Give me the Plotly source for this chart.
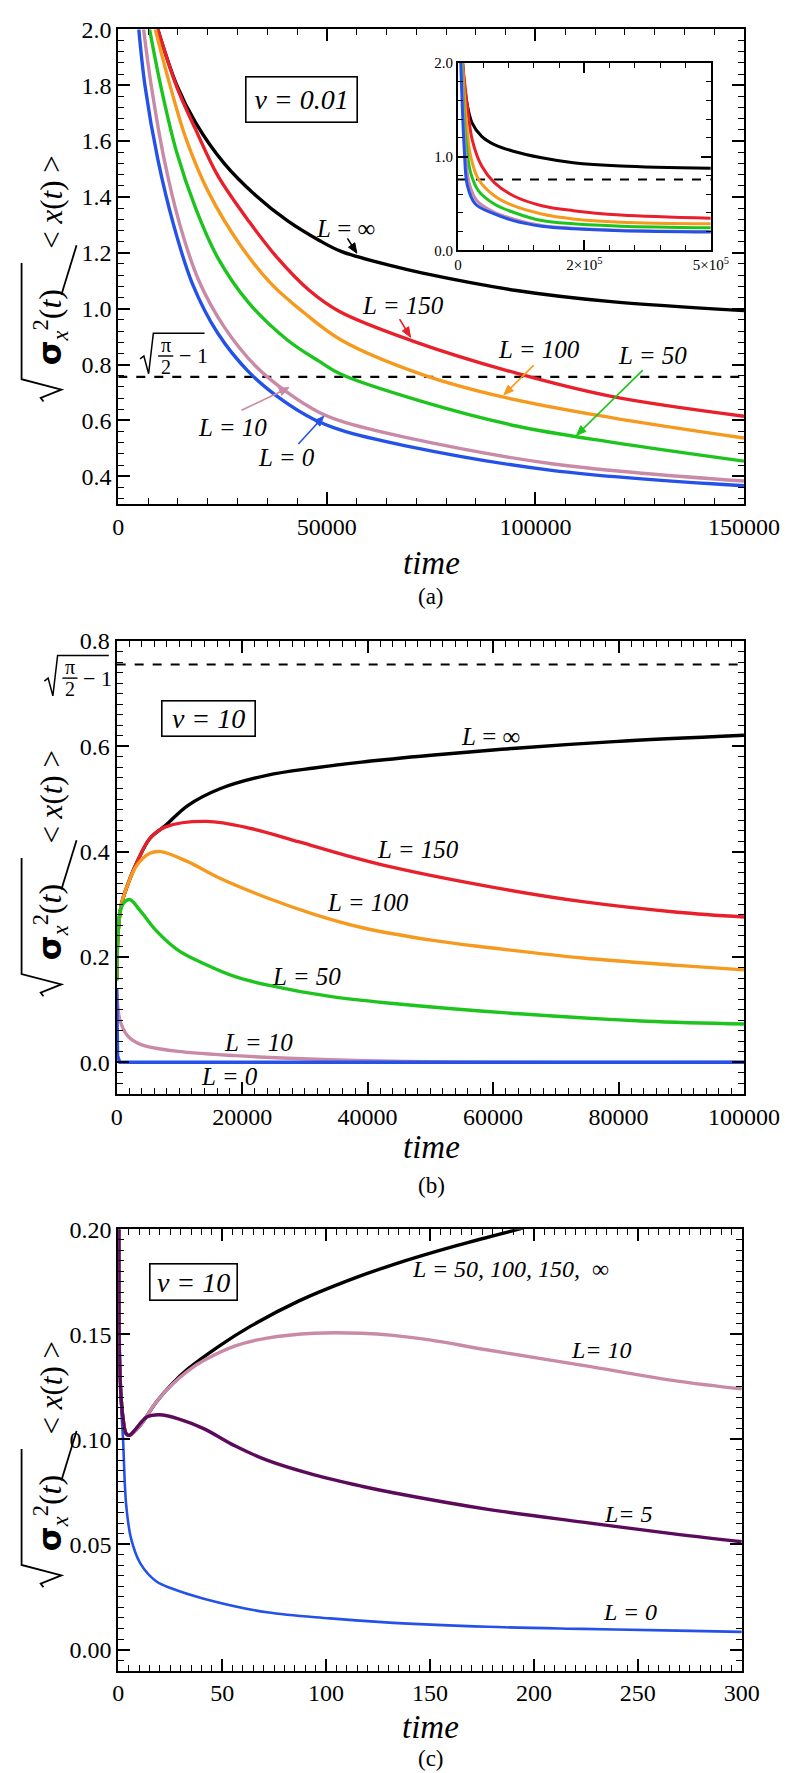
import math
import plotly.graph_objects as go

W, H = 808, 1773

# ---------------- data : panel (a), nu = 0.01 ----------------
A_T_INF = [9470, 14020, 18560, 25380, 32960, 40530, 48100, 53410, 65900, 72730, 95450, 118180, 150000]
A_V_INF = [2.0, 1.80, 1.665, 1.52, 1.405, 1.315, 1.245, 1.205, 1.152, 1.128, 1.065, 1.025, 0.993]
A_T_150 = [9470, 14020, 18560, 23860, 31440, 38260, 45830, 53030, 70450, 95450, 118180, 150000]
A_V_150 = [2.0, 1.794, 1.641, 1.476, 1.31, 1.18, 1.065, 0.99, 0.885, 0.769, 0.686, 0.615]
A_T_100 = [8860, 12500, 16290, 21590, 29170, 36740, 44320, 53410, 72730, 92420, 118180, 150000]
A_V_100 = [2.0, 1.794, 1.606, 1.418, 1.229, 1.088, 0.988, 0.888, 0.765, 0.683, 0.610, 0.537]
A_T_50 = [7500, 10230, 14020, 18560, 23860, 31440, 40530, 48100, 53410, 72730, 95450, 118180, 150000]
A_V_50 = [2.0, 1.794, 1.559, 1.359, 1.182, 1.018, 0.888, 0.812, 0.765, 0.668, 0.580, 0.522, 0.454]
A_T_10 = [6060, 7950, 10990, 14770, 19320, 25380, 32960, 40530, 48100, 53410, 68600, 103900, 150000]
A_V_10 = [2.0, 1.794, 1.535, 1.30, 1.10, 0.935, 0.794, 0.70, 0.629, 0.597, 0.54, 0.445, 0.383]
A_T_0 = [4920, 6440, 9470, 13260, 17800, 23860, 31440, 39020, 46590, 53410, 68600, 103900, 150000]
A_V_0 = [2.0, 1.794, 1.535, 1.30, 1.088, 0.912, 0.771, 0.676, 0.606, 0.565, 0.51, 0.421, 0.366]

# inset of panel (a)
I_T_INF = [9375, 15600, 28100, 46900, 71900, 109400, 165600, 228100, 321900, 500000]
I_V_INF = [2.0, 1.64, 1.358, 1.217, 1.129, 1.058, 0.988, 0.935, 0.899, 0.875]
I_T_150 = [9000, 18750, 28100, 46900, 71900, 109400, 165600, 228100, 321900, 500000]
I_V_150 = [2.0, 1.534, 1.182, 0.899, 0.723, 0.582, 0.476, 0.423, 0.377, 0.342]
I_T_100 = [9000, 16900, 25000, 40600, 71900, 109400, 165600, 228100, 321900, 500000]
I_V_100 = [2.0, 1.358, 1.005, 0.758, 0.582, 0.476, 0.388, 0.335, 0.300, 0.282]
I_T_50 = [8000, 15600, 25000, 40600, 71900, 109400, 165600, 228100, 321900, 500000]
I_V_50 = [2.0, 1.182, 0.829, 0.635, 0.494, 0.406, 0.317, 0.282, 0.257, 0.240]
I_T_10 = [7000, 14400, 21900, 37500, 71900, 109400, 165600, 228100, 321900, 500000]
I_V_10 = [2.0, 1.076, 0.723, 0.529, 0.406, 0.335, 0.265, 0.236, 0.215, 0.201]
I_T_0 = [5600, 12500, 18750, 34400, 71900, 109400, 165600, 228100, 321900, 500000]
I_V_0 = [2.0, 1.076, 0.688, 0.494, 0.388, 0.317, 0.257, 0.229, 0.208, 0.194]

# ---------------- data : panel (b), nu = 10 ----------------
B_T_INF = [0, 250, 756, 1760, 3270, 5290, 7810, 11330, 16370, 23930, 31490, 39040, 50130, 64200, 79300, 100000]
B_V_INF = [0.156, 0.25, 0.30, 0.3375, 0.381, 0.425, 0.45, 0.4875, 0.519, 0.545, 0.559, 0.57, 0.583, 0.597, 0.609, 0.621]
B_T_150 = [0, 250, 756, 1760, 3270, 5290, 7810, 14360, 21410, 28970, 36520, 44080, 59200, 74300, 89400, 100000]
B_V_150 = [0.156, 0.25, 0.30, 0.3375, 0.381, 0.425, 0.447, 0.4575, 0.444, 0.419, 0.393, 0.37, 0.334, 0.305, 0.285, 0.276]
B_T_100 = [0, 250, 756, 1760, 3270, 5290, 7050, 11330, 16370, 23930, 31490, 39040, 50130, 59200, 74300, 89400, 100000]
B_V_100 = [0.156, 0.25, 0.30, 0.3375, 0.375, 0.397, 0.40, 0.381, 0.35, 0.3125, 0.281, 0.256, 0.232, 0.218, 0.198, 0.184, 0.1755]
B_T_50 = [0, 250, 756, 2015, 3780, 6300, 9820, 13850, 18890, 23930, 34010, 44080, 64200, 84400, 100000]
B_V_50 = [0.156, 0.25, 0.295, 0.309, 0.2875, 0.25, 0.2125, 0.1875, 0.1625, 0.147, 0.125, 0.1117, 0.092, 0.078, 0.0728]
B_T_10 = [0, 500, 1760, 3780, 8820, 18890, 34010, 50130, 100000]
B_V_10 = [0.14, 0.081, 0.05, 0.034, 0.022, 0.0125, 0.005, 0.001, 0.0]
B_T_0 = [0, 150, 500, 100000]
B_V_0 = [0.14, 0.0125, 0.0, 0.0]

# ---------------- data : panel (c), nu = 10, short times ----------------
C_T_BIG = [0.3, 0.76, 2.28, 3.8, 5.3, 10.6, 18.2, 25.8, 33.4, 48.7, 63.9, 86.7, 109.5, 132.3, 162.7, 194.6]
C_V_BIG = [0.2, 0.132, 0.11, 0.1027, 0.1019, 0.1067, 0.1177, 0.1263, 0.1334, 0.1445, 0.154, 0.1658, 0.1752, 0.1832, 0.1922, 0.2005]
C_T_10 = [0.3, 0.76, 2.28, 3.8, 5.3, 10.6, 18.2, 25.8, 33.4, 41.1, 56.3, 71.5, 94.3, 117.0, 132.3, 150.5, 177.9, 223.5, 269.1, 300]
C_V_10 = [0.2, 0.132, 0.11, 0.1027, 0.1019, 0.1067, 0.1177, 0.126, 0.1325, 0.1375, 0.1445, 0.1482, 0.1505, 0.1505, 0.1495, 0.1472, 0.1425, 0.1352, 0.1277, 0.124]
C_T_5 = [0.3, 0.76, 2.28, 3.8, 5.3, 8.0, 13.7, 19.8, 28.9, 41.1, 56.3, 71.5, 94.3, 117.1, 132.3, 177.9, 223.5, 269.1, 300]
C_V_5 = [0.2, 0.132, 0.11, 0.1027, 0.1019, 0.1045, 0.1106, 0.1117, 0.1098, 0.1051, 0.0968, 0.0901, 0.0831, 0.0777, 0.0746, 0.0667, 0.0606, 0.0548, 0.0513]
C_T_0 = [0.3, 1.2, 2.28, 3.8, 6.1, 10.6, 18.2, 25.8, 41.1, 71.5, 101.9, 132.3, 177.9, 223.5, 269.1, 300]
C_V_0 = [0.2, 0.12, 0.1003, 0.0688, 0.053, 0.041, 0.0325, 0.029, 0.0242, 0.0177, 0.0148, 0.0127, 0.0108, 0.0098, 0.0090, 0.0084]

SQRT_LEVEL = math.sqrt(math.pi / 2 - 1)

# ---------------- styling ----------------
BLACK = "#000000"
RED = "#e8202c"
ORANGE = "#f59a1e"
GREEN = "#1ec41e"
PINK = "#c98aa8"
BLUE = "#2452e8"
PURPLE = "#5c0a5c"
SERIF = "Liberation Serif, Times New Roman, DejaVu Serif, serif"

fig = go.Figure()


def px(X):
    return X / W


def py(Y):
    return 1 - Y / H


def line(t, v, color, xa, ya, width=3.4, shape="spline"):
    fig.add_trace(go.Scatter(x=t, y=v, mode="lines", xaxis=xa, yaxis=ya,
                             line=dict(color=color, width=width, shape=shape, smoothing=1.0),
                             hoverinfo="skip", showlegend=False))


def dashed(xmax, xa, ya):
    fig.add_trace(go.Scatter(x=[0, xmax], y=[SQRT_LEVEL, SQRT_LEVEL], mode="lines", xaxis=xa, yaxis=ya,
                             line=dict(color=BLACK, width=2.2, dash="dash"),
                             hoverinfo="skip", showlegend=False))


# panel (a)
dashed(150000, "x", "y")
line(A_T_INF, A_V_INF, BLACK, "x", "y")
line(A_T_150, A_V_150, RED, "x", "y")
line(A_T_100, A_V_100, ORANGE, "x", "y")
line(A_T_50, A_V_50, GREEN, "x", "y")
line(A_T_10, A_V_10, PINK, "x", "y")
line(A_T_0, A_V_0, BLUE, "x", "y")
# inset
dashed(500000, "x2", "y2")
line(I_T_INF, I_V_INF, BLACK, "x2", "y2", 3)
line(I_T_150, I_V_150, RED, "x2", "y2", 3)
line(I_T_100, I_V_100, ORANGE, "x2", "y2", 3)
line(I_T_50, I_V_50, GREEN, "x2", "y2", 3)
line(I_T_10, I_V_10, PINK, "x2", "y2", 3)
line(I_T_0, I_V_0, BLUE, "x2", "y2", 3)
# panel (b)
dashed(100000, "x3", "y3")
line(B_T_INF, B_V_INF, BLACK, "x3", "y3")
line(B_T_150, B_V_150, RED, "x3", "y3")
line(B_T_100, B_V_100, ORANGE, "x3", "y3")
line(B_T_50, B_V_50, GREEN, "x3", "y3")
line(B_T_10, B_V_10, PINK, "x3", "y3")
line(B_T_0, B_V_0, BLUE, "x3", "y3", shape="linear")
# panel (c)
line(C_T_0, C_V_0, BLUE, "x4", "y4", 2.6)
line(C_T_BIG, C_V_BIG, BLACK, "x4", "y4")
line(C_T_10, C_V_10, PINK, "x4", "y4")
line(C_T_5, C_V_5, PURPLE, "x4", "y4")


def axis(domain, rng, dtick, minor, fmt=None, size=24, ticklen=12, mlen=6, anchor=None, **kw):
    d = dict(domain=domain, range=rng, dtick=dtick, tick0=0, showline=True, linewidth=2, linecolor=BLACK,
             mirror="ticks", ticks="inside", ticklen=ticklen, tickwidth=1.6, tickcolor=BLACK,
             showgrid=False, zeroline=False, tickfont=dict(family=SERIF, size=size, color=BLACK),
             minor=dict(dtick=minor, ticks="inside", ticklen=mlen, tickwidth=1.3, tickcolor=BLACK, showgrid=False),
             anchor=anchor, fixedrange=True)
    if fmt:
        d["tickformat"] = fmt
    d.update(kw)
    return d


layout = dict(
    width=W, height=H, margin=dict(l=0, r=0, t=0, b=0),
    paper_bgcolor="white", plot_bgcolor="white", showlegend=False,
    xaxis=axis([px(110), px(770)], [0, 150000], 50000, 50000 / 7, "d", anchor="y"),
    yaxis=axis([py(489), py(8.4)], [0.3, 2.0], 0.2, 0.04, ".1f", anchor="x"),
    xaxis2=axis([px(468.3), px(735)], [0, 500000], None, 50000, size=15, ticklen=10, mlen=5, anchor="y2",
                tickvals=[0, 250000, 500000], ticktext=["0", "2×10<sup>5</sup>", "5×10<sup>5</sup>"]),
    yaxis2=axis([py(232), py(42.5)], [0, 2.0], None, 0.2, size=15, ticklen=10, mlen=5, anchor="x2",
                tickvals=[0, 1, 2], ticktext=["0.0", "1.0", "2.0"]),
    xaxis3=axis([px(108.3), px(770)], [0, 100000], 20000, 2000, "d", anchor="y3"),
    yaxis3=axis([py(1085.7), py(627.5)], [-0.06, 0.8], 0.2, 0.02, ".1f", anchor="x3"),
    xaxis4=axis([px(110), px(767.7)], [0, 300], 50, 5, "d", anchor="y4"),
    yaxis4=axis([py(1669.3), py(1222.7)], [-0.01, 0.2], 0.05, 0.005, ".2f", anchor="x4"),
)
fig.update_layout(**layout)

ann = []
shapes = []


def text(x, y, s, xref, yref, size=25, angle=0, color=BLACK, family=SERIF, **kw):
    d = dict(x=x, y=y, xref=xref, yref=yref, text=s, showarrow=False, textangle=angle,
             font=dict(family=family, size=size, color=color), xanchor="center", yanchor="middle")
    d.update(kw)
    ann.append(d)


def ptext(X, Y, s, size=25, angle=0, **kw):
    text(px(X), py(Y), s, "paper", "paper", size=size, angle=angle, **kw)


def pline(X0, Y0, X1, Y1, width=1.6, color=BLACK):
    shapes.append(dict(type="line", xref="paper", yref="paper", x0=px(X0), y0=py(Y0), x1=px(X1), y1=py(Y1),
                       line=dict(color=color, width=width)))


def ppath(points, width=1.6, color=BLACK, fill=None):
    p = "M " + " L ".join(f"{px(a):.5f},{py(b):.5f}" for a, b in points)
    d = dict(type="path", xref="paper", yref="paper", path=p + (" Z" if fill else ""),
             line=dict(color=color, width=width))
    if fill:
        d["fillcolor"] = fill
    shapes.append(d)


def parrow(X0, Y0, X1, Y1, color):
    dx, dy = X1 - X0, Y1 - Y0
    n = math.hypot(dx, dy)
    ux, uy = dx / n, dy / n
    L, w = 10, 4
    bx, by = X1 - L * ux, Y1 - L * uy
    pline(X0, Y0, bx + 2 * ux, by + 2 * uy, 1.6, color)
    ppath([(X1, Y1), (bx - w * uy, by + w * ux), (bx + w * uy, by - w * ux)], 1, color, color)


def sqrt_label(X0, Y0):
    ppath([(X0, Y0 - 15), (X0 + 4, Y0 - 18), (X0 + 9, Y0), (X0 + 14, Y0 - 41), (X0 + 68, Y0 - 41)], 1.5)
    ptext(X0 + 27, Y0 - 29, "π", size=20)
    pline(X0 + 19, Y0 - 18, X0 + 35, Y0 - 18, 1.4)
    ptext(X0 + 27, Y0 - 7, "2", size=20)
    ptext(X0 + 56, Y0 - 18, "− 1", size=22)


def ytitle(Yt):
    ptext(40, Yt + 38, "&lt; <i>x</i>(<i>t</i>) &gt;", size=31, angle=-90)
    ptext(38, Yt + 165,
          "<span style='font-family:DejaVu Sans'><b>σ</b></span><sub><i>x</i></sub><sup>2</sup>(<i>t</i>)",
          size=32, angle=-90)
    pline(50, Yt + 132, 66, Yt + 82, 1.8)
    Xb, h, w, Yb = 50, 42, 30, Yt + 240
    ppath([(Xb - 0.45 * h, Yb), (Xb - 0.52 * h, Yb - 0.12 * w), (Xb, Yb - 0.4 * w),
           (Xb - h, Yb - 0.75 * w), (Xb - h, Yt + 100)], 1.8)


# ---- panel (a) annotations ----
text(43860, 1.747, "<i>ν = 0.01</i>", "x", "y", size=28, bordercolor=BLACK, borderwidth=1.6,
     borderpad=5, width=100, height=34)
text(54545, 1.287, "<i>L</i> = ∞", "x", "y")
text(68180, 1.011, "<i>L = 150</i>", "x", "y")
text(100910, 0.855, "<i>L = 100</i>", "x", "y")
text(127950, 0.834, "<i>L = 50</i>", "x", "y")
text(27270, 0.573, "<i>L = 10</i>", "x", "y")
text(40340, 0.466, "<i>L = 0</i>", "x", "y")
parrow(351.7, 220, 361.7, 235, BLACK)
parrow(406.7, 301.7, 418.3, 320, RED)
parrow(548.3, 348.3, 516.7, 378.3, ORANGE)
parrow(663.3, 353.3, 593.3, 419.3, GREEN)
parrow(240, 394, 290, 371, PINK)
parrow(300, 428, 326.7, 400, BLUE)
sqrt_label(133, 357)
ytitle(145)
ptext(440, 549, "<i>time</i>", size=33)
ptext(440, 582, "(a)", size=23)

# ---- panel (b) annotations ----
text(14610, 0.652, "<i>ν = 10</i>", "x3", "y3", size=28, bordercolor=BLACK, borderwidth=1.6,
     borderpad=3, width=86, height=28)
text(59540, 0.618, "<i>L</i> = ∞", "x3", "y3")
text(48040, 0.404, "<i>L = 150</i>", "x3", "y3")
text(40030, 0.3026, "<i>L = 100</i>", "x3", "y3")
text(30200, 0.162, "<i>L = 50</i>", "x3", "y3")
text(22640, 0.0376, "<i>L = 10</i>", "x3", "y3")
text(17950, -0.0263, "<i>L = 0</i>", "x3", "y3")
sqrt_label(32, 683)
ytitle(747)
ptext(440, 1140, "<i>time</i>", size=33)
ptext(440, 1178, "(b)", size=23)

# ---- panel (c) annotations ----
text(36.0, 0.175, "<i>ν = 10</i>", "x4", "y4", size=28, bordercolor=BLACK, borderwidth=1.6,
     borderpad=3, width=80, height=29)
text(188.8, 0.181, "<i>L = 50, 100, 150,</i>  ∞", "x4", "y4", size=24)
text(232.6, 0.1425, "<i>L= 10</i>", "x4", "y4", size=24)
text(245.4, 0.0646, "<i>L= 5</i>", "x4", "y4", size=24)
text(246.3, 0.0177, "<i>L = 0</i>", "x4", "y4", size=24)
ytitle(1345)
ptext(439, 1726, "<i>time</i>", size=33)
ptext(440, 1758, "(c)", size=23)

fig.update_layout(annotations=ann, shapes=shapes)
fig.write_html("out.html")
